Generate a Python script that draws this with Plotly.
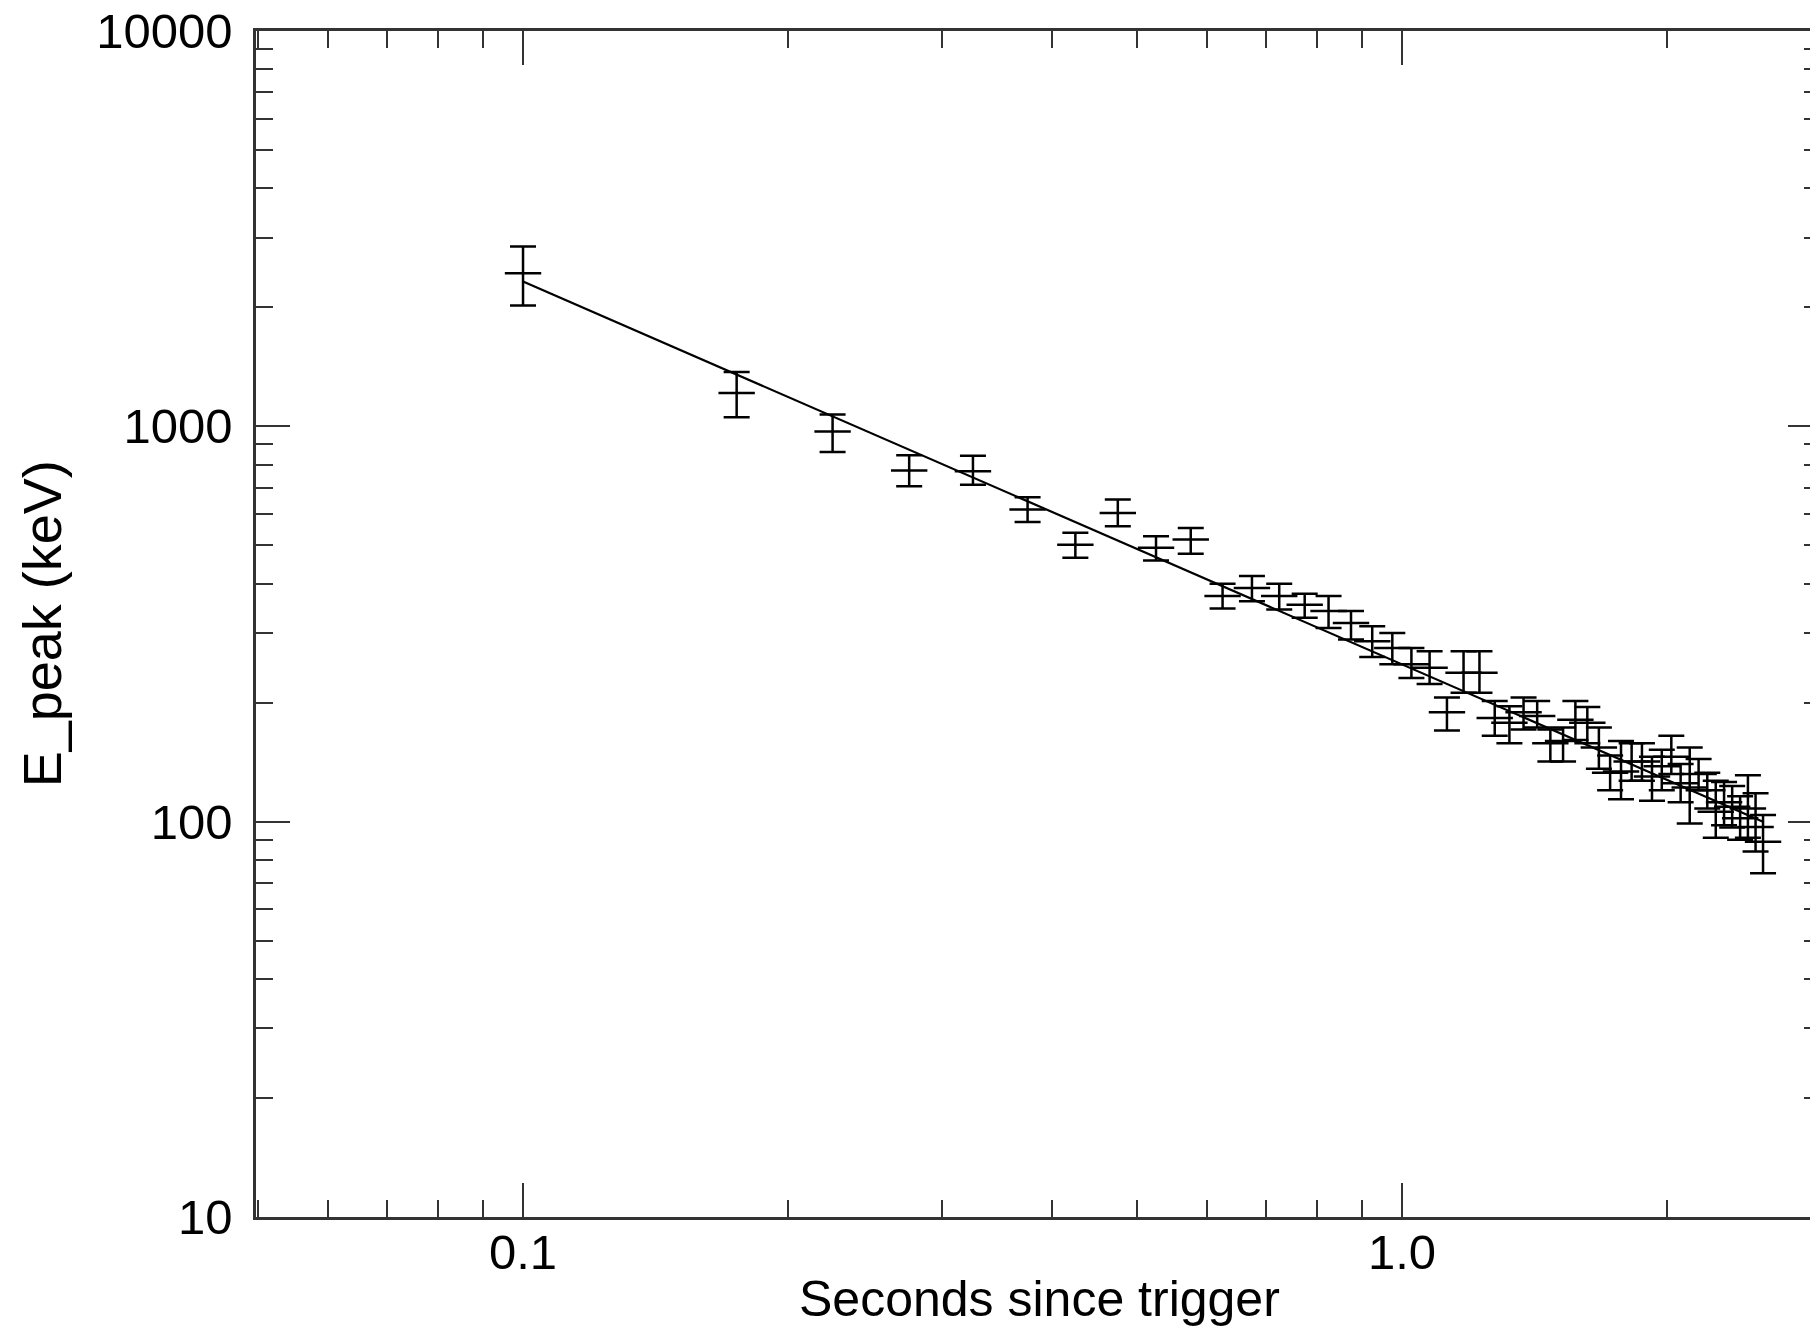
import plotly.graph_objects as go

# ---- data ----
t = [0.1, 0.175, 0.225, 0.275, 0.325, 0.375, 0.425, 0.475, 0.525, 0.575,
     0.625, 0.675, 0.725, 0.775, 0.825, 0.875, 0.925, 0.975, 1.025, 1.075,
     1.125, 1.175, 1.225, 1.275, 1.325, 1.375, 1.425, 1.475, 1.525, 1.575,
     1.625, 1.675, 1.725, 1.775, 1.825, 1.875, 1.925, 1.975, 2.025, 2.075,
     2.125, 2.175, 2.225, 2.275, 2.325, 2.375, 2.425, 2.475, 2.525, 2.575]
E_peak = [2440, 1214, 971, 773, 770, 616, 502, 604, 493, 517,
          372, 390, 372, 354, 341, 318, 286, 275, 250, 245,
          189, 238, 238, 183, 178, 189, 185, 158, 160, 181,
          178, 154, 133, 134, 142, 142, 130, 138, 146, 125,
          122, 132, 120, 106, 112, 109, 102, 108, 97, 89]
E_lo = [2022, 1054, 861, 705, 712, 573, 465, 559, 458, 476,
        346, 361, 344, 328, 309, 289, 261, 250, 231, 223,
        170, 212, 212, 165, 158, 171, 173, 142, 142, 161,
        158, 136, 120, 114, 127, 127, 113, 120, 132, 112,
        99, 120, 108, 91, 98, 96.6, 90, 91, 84, 74]
E_hi = [2850, 1372, 1071, 845, 842, 662, 538, 653, 527, 553,
        400, 418, 400, 377, 372, 341, 312, 300, 275, 270,
        206, 270, 270, 202, 196, 206, 202, 171, 173, 202,
        195, 173, 147, 160, 158, 158, 146, 152, 165, 140,
        154, 144, 133, 127, 126, 123, 116, 131, 118, 104]

fit_t = [0.1, 2.575]
fit_E = [2325, 100]

x_major = [0.1, 1.0]
x_major_text = ["0.1", "1.0"]
y_major = [10, 100, 1000, 10000]
y_major_text = ["10", "100", "1000", "10000"]

# ---- styling helpers ----
x_minor = [m * d for d in (0.01, 0.1, 1.0) for m in range(2, 10)]
y_minor = [m * d for d in (10, 100, 1000) for m in range(2, 10)]

FONT = "Liberation Sans, Arial, Helvetica, sans-serif"
AX = "#333333"

fig = go.Figure()

fig.add_trace(go.Scatter(
    x=fit_t, y=fit_E, mode="lines",
    line=dict(color="black", width=2.2), hoverinfo="skip", showlegend=False))

fig.add_trace(go.Scatter(
    x=t, y=E_peak, mode="markers",
    marker=dict(symbol="line-ew", size=26, color="black",
                line=dict(color="black", width=2.5)),
    error_y=dict(type="data", symmetric=False,
                 array=[h - e for h, e in zip(E_hi, E_peak)],
                 arrayminus=[e - l for e, l in zip(E_peak, E_lo)],
                 color="black", thickness=2.5, width=13),
    showlegend=False))

# invisible trace to carry the right-hand axis
fig.add_trace(go.Scatter(
    x=fit_t, y=fit_E, yaxis="y2", mode="lines",
    line=dict(color="rgba(0,0,0,0)", width=0), hoverinfo="skip", showlegend=False))

fig.update_layout(
    width=1810, height=1330,
    margin=dict(l=256, r=0, t=31, b=113),
    paper_bgcolor="white", plot_bgcolor="white",
    font=dict(family=FONT, color="black"),
    xaxis=dict(
        type="log", range=[-1.3038, 0.4642],
        showline=True, linecolor=AX, linewidth=2.5, mirror="ticks",
        ticks="inside", ticklen=34, tickwidth=2, tickcolor=AX,
        tickvals=x_major, ticktext=x_major_text,
        tickfont=dict(size=49, family=FONT, color="black"),
        minor=dict(tickvals=x_minor, ticks="inside", ticklen=17,
                   tickwidth=2, tickcolor=AX, showgrid=False),
        showgrid=False, zeroline=False, ticklabelstandoff=-10),
    yaxis=dict(
        type="log", range=[1, 4],
        showline=True, linecolor=AX, linewidth=2.5, mirror=False,
        ticks="inside", ticklen=34, tickwidth=2, tickcolor=AX,
        tickvals=y_major, ticktext=y_major_text,
        tickfont=dict(size=49, family=FONT, color="black"),
        minor=dict(tickvals=y_minor, ticks="inside", ticklen=17,
                   tickwidth=2, tickcolor=AX, showgrid=False),
        showgrid=False, zeroline=False, ticklabelstandoff=11),
    yaxis2=dict(
        type="log", range=[1, 4], overlaying="y", side="right",
        showline=False, showticklabels=False,
        ticks="inside", ticklen=22, tickwidth=2, tickcolor=AX,
        tickvals=y_major,
        minor=dict(tickvals=y_minor, ticks="inside", ticklen=6,
                   tickwidth=2, tickcolor=AX, showgrid=False),
        showgrid=False, zeroline=False),
    annotations=[
        dict(text="Seconds since trigger", xref="paper", yref="paper",
             x=0.504, y=-0.044, xanchor="center", yanchor="top",
             showarrow=False, font=dict(size=50, family=FONT, color="black")),
        dict(text="E_peak (keV)", xref="paper", yref="paper",
             x=-0.1375, y=0.5, xanchor="center", yanchor="middle", textangle=-90,
             showarrow=False, font=dict(size=54, family=FONT, color="black")),
    ],
)

fig.write_html("out.html",
               config={"displayModeBar": False},
               post_script="document.body.style.margin='0';document.body.style.overflow='hidden';")
